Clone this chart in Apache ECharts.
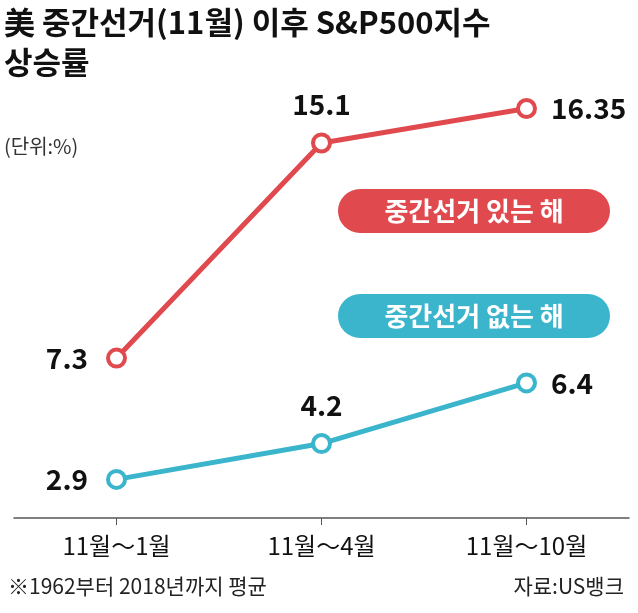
<!DOCTYPE html><html><head><meta charset="utf-8"><script src="https://cdn.jsdelivr.net/npm/echarts@6/dist/echarts.min.js"></script></head><body style="margin:0"><div id="c" style="width:638px;height:613px"></div><script>
const categories=['11월～1월','11월～4월','11월～10월'];
const withElection=[7.3,15.1,16.35];
const withoutElection=[2.9,4.2,6.4];
const RED='#e04a4f',BLUE='#3ab5cc';
const F='"Noto Sans CJK KR","Noto Sans",sans-serif';
const c=echarts.init(document.getElementById('c'));
const base={show:true,fontFamily:F,fontSize:28,fontWeight:'bold',color:'#111',letterSpacing:-2};
const mk=(arr)=>arr.map((v,i)=>({value:v,label:Object.assign({},base,i===0?{position:'left',distance:18}:i===2?{position:'right',distance:14}:{position:'top',distance:14})}));
c.setOption({
 animation:false,
 grid:{left:14,right:9,top:63,bottom:95},
 xAxis:{type:'category',data:categories,axisLine:{lineStyle:{color:'#555',width:1.5}},axisTick:{show:true,alignWithLabel:true,length:7,lineStyle:{color:'#555'}},axisLabel:{fontFamily:F,fontSize:24,color:'#111',margin:16,letterSpacing:-1}},
 yAxis:{type:'value',min:1.5,max:18,show:false,splitLine:{show:false}},
 series:[
  {type:'line',data:mk(withElection),symbol:'circle',symbolSize:17,lineStyle:{color:RED,width:5},itemStyle:{color:'#fff',borderColor:RED,borderWidth:4}},
  {type:'line',data:mk(withoutElection),symbol:'circle',symbolSize:17,lineStyle:{color:BLUE,width:5},itemStyle:{color:'#fff',borderColor:BLUE,borderWidth:4}}
 ],
 graphic:[
  {type:'text',left:4,top:2,style:{text:'美 중간선거(11월) 이후 S&P500지수\n상승률',font:'bold 31px '+F,fill:'#111',lineHeight:40}},
  {type:'text',left:4,top:136,style:{text:'(단위:%)',font:'20px '+F,fill:'#333'}},
  {type:'rect',shape:{x:338,y:189,width:272,height:44,r:22},style:{fill:RED}},
  {type:'text',x:474,y:211,style:{text:'중간선거 있는 해',font:'bold 26px '+F,fill:'#fff',align:'center',verticalAlign:'middle'}},
  {type:'rect',shape:{x:338,y:294,width:272,height:44,r:22},style:{fill:BLUE}},
  {type:'text',x:474,y:316,style:{text:'중간선거 없는 해',font:'bold 26px '+F,fill:'#fff',align:'center',verticalAlign:'middle'}},
  {type:'text',left:8,top:576,style:{text:'※1962부터 2018년까지 평균',font:'21px '+F,fill:'#222'}},
  {type:'text',right:14,top:576,style:{text:'자료:US뱅크',font:'21px '+F,fill:'#222'}}
 ]
});
</script></body></html>
